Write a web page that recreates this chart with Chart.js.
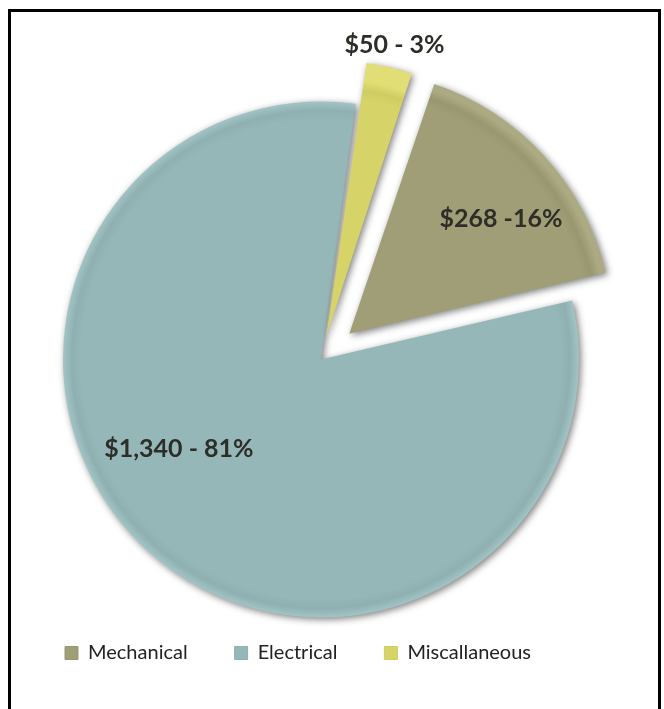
<!DOCTYPE html>
<html>
<head>
<meta charset="utf-8">
<script src="https://cdn.jsdelivr.net/npm/chart.js@4"></script>
<style>
  html, body { margin: 0; padding: 0; background: #fff; }
  #wrap { position: relative; width: 664px; height: 709px; overflow: hidden; }
  #frame { position: absolute; left: 8px; top: 9px; width: 653px; height: 760px;
           box-sizing: border-box; border: 3px solid #000; border-bottom: none; pointer-events: none; }
  canvas { position: absolute; left: 0; top: 0; }
</style>
</head>
<body>
<div id="wrap">
  <div id="frame"></div>
  <canvas id="c" width="664" height="709"></canvas>
</div>
<script>
// ---- data ----
const categories = ['Mechanical', 'Electrical', 'Miscallaneous'];
const amounts = [268, 1340, 50];
const sliceLabels = ['$268 -16%', '$1,340 - 81%', '$50 - 3%'];
const sliceColors = ['#a09e76', '#95b7b7', '#d6d468'];
const rimDark = ['#999770', '#8eb0b0', '#cfcd61'];
const rimLight = ['#acaa82', '#a2c4c4', '#e0de74'];
const explode = [153, 0, 93];

// label placement (angle shift in degrees, distance as fraction of radius)
const labelPlacement = [
  { shift: 4.4, dist: 0.884 },
  { shift: 15.5, dist: 0.651 },
  { shift: 0, dist: 1.252 }
];

function sliceFill(c) {
  const i = c.dataIndex;
  const el = c.element;
  if (!el || !el.outerRadius) return sliceColors[i];
  const g = c.chart.ctx.createRadialGradient(el.x, el.y, 0, el.x, el.y, el.outerRadius);
  g.addColorStop(0, sliceColors[i]);
  g.addColorStop(0.93, sliceColors[i]);
  g.addColorStop(0.965, rimDark[i]);
  g.addColorStop(1, rimLight[i]);
  return g;
}

const pieDecor = {
  id: 'pieDecor',
  beforeDatasetsDraw(chart) {
    const ctx = chart.ctx;
    ctx.save();
    ctx.shadowColor = 'rgba(0,0,0,0.5)';
    ctx.shadowBlur = 7;
    ctx.shadowOffsetX = 2;
    ctx.shadowOffsetY = 2;
  },
  afterDatasetsDraw(chart) {
    const ctx = chart.ctx;
    ctx.restore();
    const meta = chart.getDatasetMeta(0);
    ctx.save();
    ctx.font = 'bold 25px Lato';
    ctx.fillStyle = '#2e2e28';
    ctx.textAlign = 'center';
    ctx.textBaseline = 'middle';
    meta.data.forEach((arc, i) => {
      const p = arc.getProps(['x', 'y', 'startAngle', 'endAngle', 'outerRadius'], true);
      const pl = labelPlacement[i];
      const a = (p.startAngle + p.endAngle) / 2 + pl.shift * Math.PI / 180;
      const d = p.outerRadius * pl.dist;
      ctx.fillText(sliceLabels[i], p.x + Math.cos(a) * d, p.y + Math.sin(a) * d);
    });
    ctx.restore();
  }
};

const chart = new Chart(document.getElementById('c'), {
  type: 'pie',
  data: {
    labels: categories,
    datasets: [{
      data: amounts,
      backgroundColor: sliceFill,
      borderWidth: 0,
      offset: explode,
      hoverOffset: 0,
      clip: false
    }]
  },
  options: {
    responsive: false,
    animation: false,
    rotation: 18.6,
    radius: 258,
    layout: { padding: { left: 18, right: 40, top: 123, bottom: 36 } },
    plugins: {
      tooltip: { enabled: false },
      legend: {
        position: 'bottom',
        align: 'start',
        labels: {
          font: { family: 'Lato', size: 20 },
          color: '#222',
          boxWidth: 13,
          boxHeight: 13,
          padding: 47,
          generateLabels(ch) {
            return categories.map((name, i) => ({
              text: name,
              fillStyle: sliceColors[i],
              strokeStyle: rimDark[i],
              lineWidth: 1,
              fontColor: '#222',
              hidden: false,
              index: i,
              datasetIndex: 0
            }));
          }
        }
      }
    }
  },
  plugins: [pieDecor]
});
chart.update();
</script>
</body>
</html>
